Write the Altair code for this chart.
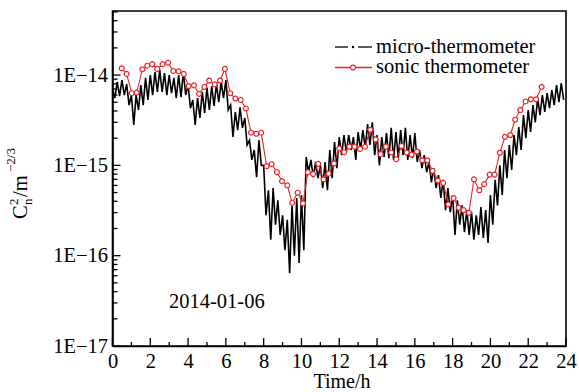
import altair as alt
import pandas as pd

# ---------------- data ----------------
# micro-thermometer: upper edge of the noisy trace (read every 0.25 h)
micro_hi_t = [i * 0.25 for i in range(96)]
micro_hi = [7.2e-15, 8.4e-15, 8.8e-15, 7.95e-15, 6.0e-15, 6.0e-15, 7.75e-15, 9.3e-15,
            1.0e-14, 1.08e-14, 1.14e-14, 1.05e-14, 1.0e-14, 9.3e-15, 1.0e-14, 1.08e-14,
            7.75e-15, 5.3e-15, 5.55e-15, 6.5e-15, 7.2e-15, 7.55e-15, 7.95e-15, 8.4e-15,
            8.8e-15, 4.65e-15, 3.9e-15, 4.4e-15, 3.35e-15, 1.9e-15, 1.48e-15, 1.9e-15,
            1.0e-15, 5.3e-16, 5.6e-16, 4.1e-16, 2.8e-16, 2.5e-16, 3.6e-16, 4.35e-16,
            4.7e-16, 1.24e-15, 1.15e-15, 1.09e-15, 1.0e-15, 1.09e-15, 1.48e-15, 1.81e-15,
            2.06e-15, 2.17e-15, 2.17e-15, 2.06e-15, 2.34e-15, 2.46e-15, 2.87e-15, 3.0e-15,
            2.17e-15, 2.06e-15, 2.28e-15, 2.6e-15, 2.34e-15, 2.46e-15, 2.6e-15, 2.17e-15,
            2.28e-15, 1.48e-15, 1.3e-15, 1.09e-15, 9.3e-16, 7.8e-16, 6.9e-16, 5.6e-16,
            4.7e-16, 4.1e-16, 3.6e-16, 3.2e-16, 3.04e-16, 2.8e-16, 3.45e-16, 3.2e-16,
            4.7e-16, 6.9e-16, 1.0e-15, 1.48e-15, 1.68e-15, 2.17e-15, 2.65e-15, 3.6e-15,
            4.1e-15, 4.65e-15, 5.55e-15, 6.0e-15, 6.3e-15, 6.8e-15, 7.75e-15, 8.15e-15]
# micro-thermometer: lower edge of the noisy trace (read every 0.25 h, offset 0.125 h)
micro_lo_t = [0.125 + i * 0.25 for i in range(96)]
micro_lo = [5.55e-15, 5.85e-15, 6.0e-15, 4.65e-15, 2.8e-15, 4.1e-15, 4.65e-15, 5.3e-15,
            6.0e-15, 6.5e-15, 6.5e-15, 6.0e-15, 6.3e-15, 5.55e-15, 5.7e-15, 6.0e-15,
            4.3e-15, 2.8e-15, 3.35e-15, 3.8e-15, 4.1e-15, 4.55e-15, 5.0e-15, 5.55e-15,
            4.1e-15, 2.06e-15, 2.46e-15, 2.6e-15, 1.68e-15, 1.15e-15, 7.4e-16, 1.0e-15,
            2.8e-16, 1.5e-16, 2.2e-16, 1.7e-16, 1.15e-16, 6.4e-17, 1.0e-16, 8.3e-17,
            1.15e-16, 8.4e-16, 7.4e-16, 7.2e-16, 5.6e-16, 5.3e-16, 7.2e-16, 9.3e-16,
            1.3e-15, 1.4e-15, 1.48e-15, 1.15e-15, 1.48e-15, 1.56e-15, 1.68e-15, 1.3e-15,
            1.0e-15, 1.24e-15, 1.2e-15, 1.15e-15, 1.2e-15, 1.3e-15, 1.15e-15, 1.2e-15,
            1.09e-15, 9.3e-16, 8.4e-16, 6.5e-16, 5.6e-16, 4.35e-16, 3.2e-16, 3.04e-16,
            1.7e-16, 2.2e-16, 1.82e-16, 1.7e-16, 1.5e-16, 1.7e-16, 1.57e-16, 1.38e-16,
            2.2e-16, 3.6e-16, 4.7e-16, 7.2e-16, 8.9e-16, 1.3e-15, 1.48e-15, 2.0e-15,
            2.34e-15, 3.0e-15, 3.6e-15, 3.9e-15, 4.3e-15, 4.65e-15, 5.0e-15, 5.3e-15]

# sonic thermometer
sonic_t = [0.49, 0.75, 1.02, 1.28, 1.58, 1.84, 2.11, 2.37, 2.65, 2.94, 3.22, 3.50,
           3.77, 4.03, 4.31, 4.58, 4.86, 5.12, 5.41, 5.69, 5.95, 6.23, 6.50, 6.78,
           7.06, 7.33, 7.61, 7.87, 8.16, 8.42, 8.70, 8.97, 9.25, 9.51, 9.80, 10.08,
           10.34, 10.62, 10.89, 11.17, 11.44, 11.72, 12.00, 12.26, 12.53, 12.81, 13.10,
           13.36, 13.64, 13.93, 14.19, 14.47, 14.75, 15.02, 15.30, 15.57, 15.83, 16.11,
           16.39, 16.66, 16.94, 17.22, 17.50, 17.77, 18.05, 18.32, 18.58, 18.86, 19.13,
           19.41, 19.67, 19.96, 20.22, 20.50, 20.77, 21.05, 21.31, 21.58, 21.86, 22.14,
           22.42, 22.71]
sonic = [1.19e-14, 1.03e-14, 6.3e-15, 6.4e-15, 1.16e-14, 1.27e-14, 1.32e-14, 1.17e-14,
         1.32e-14, 1.37e-14, 1.11e-14, 1.10e-14, 1.03e-14, 7.55e-15, 7.7e-15, 6.2e-15,
         7.4e-15, 8.7e-15, 7.9e-15, 8.7e-15, 1.17e-14, 6.3e-15, 5.5e-15, 5.3e-15,
         4.27e-15, 2.3e-15, 2.24e-15, 2.3e-15, 9.8e-16, 1.03e-15, 8.4e-16, 6.7e-16,
         6.0e-16, 3.86e-16, 4.98e-16, 3.8e-16, 8.4e-16, 8.0e-16, 1.04e-15, 7.0e-16,
         8.1e-16, 1.05e-15, 1.54e-15, 1.40e-15, 1.61e-15, 1.61e-15, 1.52e-15, 1.61e-15,
         2.48e-15, 1.94e-15, 1.33e-15, 1.61e-15, 1.39e-15, 1.17e-15, 1.64e-15, 1.39e-15,
         1.32e-15, 1.42e-15, 1.14e-15, 1.14e-15, 8.7e-16, 6.8e-16, 6.4e-16, 3.7e-16,
         4.35e-16, 3.4e-16, 3.2e-16, 2.99e-16, 7.0e-16, 5.3e-16, 6.2e-16, 7.9e-16,
         7.9e-16, 1.38e-15, 2.07e-15, 2.17e-15, 3.2e-15, 4.1e-15, 5.1e-15, 5.4e-15,
         5.4e-15, 7.4e-15]

x_major_ticks = [0, 2, 4, 6, 8, 10, 12, 14, 16, 18, 20, 22, 24]
x_minor_ticks = [1, 3, 5, 7, 9, 11, 13, 15, 17, 19, 21, 23]
y_major_ticks = [1e-17, 1e-16, 1e-15, 1e-14]
y_minor_ticks = [m * d for d in (1e-17, 1e-16, 1e-15, 1e-14) for m in range(2, 10) if m * d <= 5e-14]

x_title = "Time/h"
date_label = "2014-01-06"
legend_labels = ["micro-thermometer", "sonic thermometer"]

# ---------------- layout ----------------
LEFT, TOP = 112.5, 11
W, H = 453.5, 335
FONT = "Liberation Serif"
FS = 20.5
RED = "#e8262a"

micro_df = pd.concat([
    pd.DataFrame({"t": micro_hi_t, "v": micro_hi}),
    pd.DataFrame({"t": micro_lo_t, "v": micro_lo}),
]).sort_values("t").reset_index(drop=True)
sonic_df = pd.DataFrame({"t": sonic_t, "v": sonic})
xmaj_df = pd.DataFrame({"t": x_major_ticks})
xmin_df = pd.DataFrame({"t": x_minor_ticks})
ymaj_df = pd.DataFrame({"v": y_major_ticks})
ymin_df = pd.DataFrame({"v": y_minor_ticks})

xs = alt.Scale(domain=[0, 24], nice=False, zero=False)
ys = alt.Scale(type="log", domain=[1e-17, 5.12e-14], nice=False)

x_axis = alt.Axis(
    values=x_major_ticks, title="", grid=False, ticks=False, tickSize=0,
    labelFont=FONT, labelFontSize=FS, labelColor="black", labelPadding=5,
    labelFlush=False, labelOverlap=False,
    domainColor="black", domainWidth=1.6)
y_axis = alt.Axis(
    values=y_major_ticks, title="", grid=False, ticks=False, tickSize=0,
    labelExpr="'1E\u2212' + round(-log(datum.value) / LN10)",
    labelFont=FONT, labelFontSize=FS, labelColor="black", labelPadding=5,
    labelFlush=False, labelOverlap=False,
    domainColor="black", domainWidth=1.6)


def X(field="t"):
    return alt.X(f"{field}:Q", scale=xs, axis=x_axis)


def Y(field="v"):
    return alt.Y(f"{field}:Q", scale=ys, axis=y_axis)


micro = alt.Chart(micro_df).mark_line(color="black", strokeWidth=1.6).encode(x=X(), y=Y())

sonic_line = alt.Chart(sonic_df).mark_line(color=RED, strokeWidth=1.1).encode(x=X(), y=Y())
sonic_pts = alt.Chart(sonic_df).mark_point(
    shape="circle", size=24, filled=True, fill="white", stroke=RED, strokeWidth=1.2, opacity=1
).encode(x=X(), y=Y())

# inward ticks
xmaj = alt.Chart(xmaj_df).mark_rule(color="black", strokeWidth=1.3).encode(
    x=X(), y=alt.value(H), y2=alt.value(H - 8))
xmin = alt.Chart(xmin_df).mark_rule(color="black", strokeWidth=1.3).encode(
    x=X(), y=alt.value(H), y2=alt.value(H - 4))
ymaj = alt.Chart(ymaj_df).mark_rule(color="black", strokeWidth=1.3).encode(
    y=Y(), x=alt.value(0), x2=alt.value(8))
ymin = alt.Chart(ymin_df).mark_rule(color="black", strokeWidth=1.3).encode(
    y=Y(), x=alt.value(0), x2=alt.value(5))


def txt(s, x, y, size=FS, angle=0, align="left", baseline="alphabetic", color="black"):
    return alt.Chart(pd.DataFrame({"s": [s]})).mark_text(
        font=FONT, fontSize=size, angle=angle, align=align, baseline=baseline, color=color,
        fontWeight="normal"
    ).encode(text="s:N", x=alt.value(x), y=alt.value(y))


# axis titles
xtitle = txt(x_title, 342 - LEFT, 387.5 - TOP, 20, 0, "center")
ytitle = [
    txt("C", 27 - LEFT, 219 - TOP, FS, 270),
    txt("n", 32 - LEFT, 205 - TOP, 13, 270),
    txt("2", 18 - LEFT, 205 - TOP, 13, 270),
    txt("/m", 27 - LEFT, 197 - TOP, FS, 270),
    txt("\u22122/3", 15 - LEFT, 172 - TOP, 13, 270),
]

date_txt = txt(date_label, 169 - LEFT, 308 - TOP)


# legend
def seg(x1, x2, y, color):
    return alt.Chart(pd.DataFrame({"a": [0]})).mark_rule(color=color, strokeWidth=1.3).encode(
        x=alt.value(x1 - LEFT), x2=alt.value(x2 - LEFT), y=alt.value(y - TOP))


leg = [
    seg(335, 348, 47, "black"), seg(358, 372, 47, "black"),
    alt.Chart(pd.DataFrame({"a": [0]})).mark_point(shape="square", size=5, filled=True, color="black", opacity=1)
    .encode(x=alt.value(353 - LEFT), y=alt.value(47 - TOP)),
    txt(legend_labels[0], 376 - LEFT, 53 - TOP),
    seg(335, 372, 67.5, RED),
    alt.Chart(pd.DataFrame({"a": [0]})).mark_point(shape="circle", size=24, filled=True, fill="white",
                                                   stroke=RED, strokeWidth=1.2, opacity=1)
    .encode(x=alt.value(353 - LEFT), y=alt.value(67.5 - TOP)),
    txt(legend_labels[1], 376 - LEFT, 73 - TOP),
]

chart = alt.layer(
    micro, sonic_line, sonic_pts, xmaj, xmin, ymaj, ymin, xtitle, *ytitle, date_txt, *leg
).properties(
    width=W, height=H,
    autosize=alt.AutoSizeParams(type="none"),
    padding={"left": LEFT, "top": TOP, "right": 579 - LEFT - W, "bottom": 392 - TOP - H},
    background="white",
).configure_view(
    stroke="black", strokeWidth=1.6
).configure_axis(
    labelOverlap=False
)

chart.save("out.html", embed_options={"renderer": "svg", "actions": False})
